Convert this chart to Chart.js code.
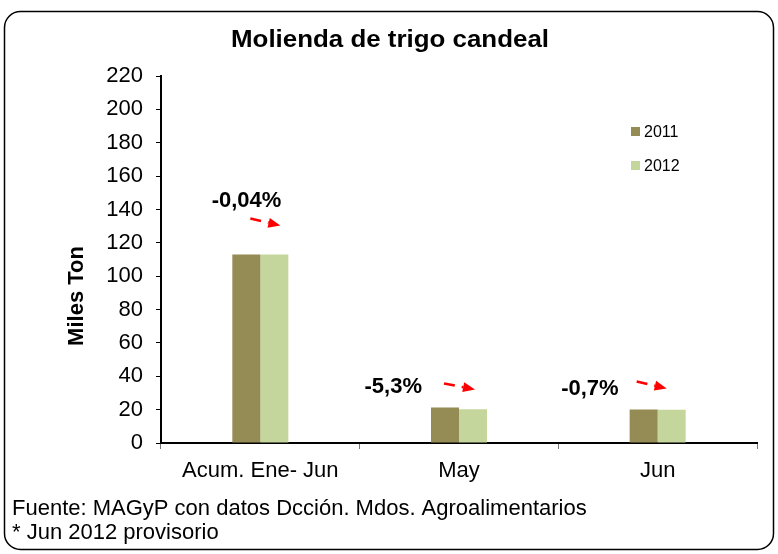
<!DOCTYPE html>
<html><head><meta charset="utf-8">
<script src="https://cdn.jsdelivr.net/npm/chart.js@4/dist/chart.umd.min.js"></script>
<style>html,body{margin:0;padding:0;background:#fff;}#wrap{width:778px;height:554px;}</style>
</head><body><div id="wrap"><canvas id="c" width="778" height="554"></canvas></div>
<script>
const categories = ['Acum. Ene- Jun', 'May', 'Jun'];
const seriesNames = ['2011', '2012'];
const values2011 = [113.0, 21.3, 20.1];
const values2012 = [112.95, 20.2, 19.96];
const changeLabels = ['-0,04%', '-5,3%', '-0,7%'];
const yTicks = [0, 20, 40, 60, 80, 100, 120, 140, 160, 180, 200, 220];
const titleText = 'Molienda de trigo candeal';
const yTitle = 'Miles Ton';
const notes = ['Fuente: MAGyP con datos Dcción. Mdos. Agroalimentarios', '* Jun 2012 provisorio'];

const FONT = '"Liberation Sans", Arial, sans-serif';
const colors = ['#958B55', '#C4D69C'];

// annotation placement relative to category centre / first bar top (layout only)
const annLayout = [
  {tx: 21, ty: -47, ax1: -10, ay1: -36, ax2: 20, ay2: -29},
  {tx: -37, ty: -14, ax1: -15, ay1: -24, ax2: 16, ay2: -18},
  {tx: -39, ty: -14, ax1: -21, ay1: -28, ax2: 9, ay2: -21}
];

function drawArrow(ctx, x1, y1, x2, y2) {
  const L = Math.hypot(x2 - x1, y2 - y1);
  const ux = (x2 - x1) / L, uy = (y2 - y1) / L;
  const head = 12, hw = 5;
  const bx = x2 - ux * head, by = y2 - uy * head;
  ctx.save();
  ctx.strokeStyle = '#FF0000';
  ctx.fillStyle = '#FF0000';
  ctx.lineWidth = 2.5;
  ctx.setLineDash([11, 7]);
  ctx.beginPath();
  ctx.moveTo(x1, y1);
  ctx.lineTo(bx, by);
  ctx.stroke();
  ctx.setLineDash([]);
  ctx.beginPath();
  ctx.moveTo(x2, y2);
  ctx.lineTo(bx - uy * hw, by + ux * hw);
  ctx.lineTo(bx + uy * hw, by - ux * hw);
  ctx.closePath();
  ctx.fill();
  ctx.restore();
}

const decor = {
  id: 'decor',
  afterDraw(chart) {
    const ctx = chart.ctx;
    const xs = chart.scales.x, ys = chart.scales.y;
    ctx.save();
    // rounded frame
    ctx.strokeStyle = '#000';
    ctx.lineWidth = 1.5;
    ctx.beginPath();
    ctx.roundRect(4.5, 11.5, 769, 538, 16);
    ctx.stroke();

    // title
    ctx.fillStyle = '#000';
    ctx.font = 'bold 23px ' + FONT;
    ctx.textBaseline = 'alphabetic';
    ctx.textAlign = 'left';
    const tw = ctx.measureText(titleText).width;
    const sx = 318 / tw;
    ctx.save();
    ctx.translate(231, 47);
    ctx.scale(sx, 1);
    ctx.fillText(titleText, 0, 0);
    ctx.restore();

    // y axis title
    ctx.save();
    ctx.translate(83, 296);
    ctx.rotate(-Math.PI / 2);
    ctx.font = 'bold 22px ' + FONT;
    ctx.textAlign = 'center';
    ctx.fillText(yTitle, 0, 0);
    ctx.restore();

    // legend
    ctx.font = '16px ' + FONT;
    ctx.textAlign = 'left';
    chart.data.datasets.forEach((ds, i) => {
      const top = 127 + i * 34;
      ctx.fillStyle = ds.backgroundColor;
      ctx.fillRect(631, top, 9, 9);
      ctx.fillStyle = '#000';
      ctx.fillText(ds.label, 644, top + 10);
    });

    // annotations
    ctx.font = 'bold 22px ' + FONT;
    ctx.textAlign = 'right';
    changeLabels.forEach((lab, i) => {
      const cx = xs.getPixelForValue(i);
      const top = ys.getPixelForValue(values2011[i]);
      const a = annLayout[i];
      ctx.fillStyle = '#000';
      ctx.fillText(lab, cx + a.tx, top + a.ty);
      drawArrow(ctx, cx + a.ax1, top + a.ay1, cx + a.ax2, top + a.ay2);
    });

    // notes
    ctx.font = '22px ' + FONT;
    ctx.textAlign = 'left';
    ctx.fillStyle = '#000';
    notes.forEach((n, i) => ctx.fillText(n, 12, 515 + i * 24));
    ctx.restore();
  }
};

new Chart(document.getElementById('c'), {
  type: 'bar',
  data: {
    labels: categories,
    datasets: [
      {label: seriesNames[0], data: values2011, backgroundColor: colors[0], categoryPercentage: 0.282, barPercentage: 1, borderWidth: 0},
      {label: seriesNames[1], data: values2012, backgroundColor: colors[1], categoryPercentage: 0.282, barPercentage: 1, borderWidth: 0}
    ]
  },
  options: {
    responsive: false,
    animation: false,
    devicePixelRatio: 1,
    layout: {padding: {top: 76, right: 21, left: 0, bottom: 0}},
    plugins: {legend: {display: false}, title: {display: false}, tooltip: {enabled: false}},
    scales: {
      x: {
        grid: {display: true, drawOnChartArea: false, drawTicks: true, tickLength: 6, color: '#777', offset: true},
        border: {display: true, color: '#000', width: 2},
        ticks: {font: {size: 22, family: FONT}, color: '#000', padding: 9, maxRotation: 0},
        afterFit: s => { s.height = 111; }
      },
      y: {
        min: 0, max: 220,
        afterBuildTicks: s => { s.ticks = yTicks.map(v => ({value: v})); },
        grid: {display: true, drawOnChartArea: false, drawTicks: true, tickLength: 5, color: '#000'},
        border: {display: true, color: '#000', width: 2},
        ticks: {font: {size: 22, family: FONT}, color: '#000', padding: 13},
        afterFit: s => { s.width = 161; }
      }
    }
  },
  plugins: [decor]
});
</script>
</body></html>
